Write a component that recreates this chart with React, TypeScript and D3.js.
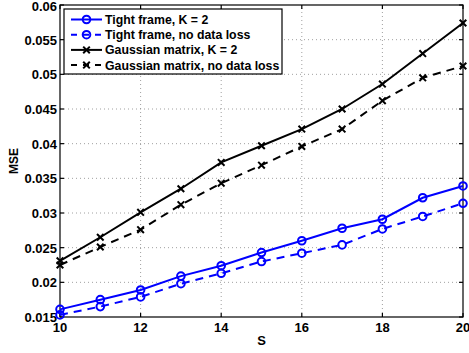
import React, { useEffect, useRef } from "react";
import * as d3 from "d3";

const sValues = [10, 11, 12, 13, 14, 15, 16, 17, 18, 19, 20];
const tightK2 = [0.0161, 0.0175, 0.0189, 0.0209, 0.0224, 0.0243, 0.026, 0.0278, 0.0291, 0.0322, 0.0339];
const tightNoLoss = [0.0153, 0.0165, 0.0179, 0.0198, 0.0213, 0.023, 0.0242, 0.0254, 0.0277, 0.0295, 0.0314];
const gaussK2 = [0.0231, 0.0265, 0.0301, 0.0335, 0.0373, 0.0397, 0.0421, 0.045, 0.0486, 0.053, 0.0574];
const gaussNoLoss = [0.0225, 0.0251, 0.0276, 0.0312, 0.0343, 0.0369, 0.0396, 0.0421, 0.0462, 0.0495, 0.0512];
const xTicks = [10, 12, 14, 16, 18, 20];
const yTicks = [0.015, 0.02, 0.025, 0.03, 0.035, 0.04, 0.045, 0.05, 0.055, 0.06];
const seriesNames = [
  "Tight frame, K = 2",
  "Tight frame, no data loss",
  "Gaussian matrix, K = 2",
  "Gaussian matrix, no data loss",
];

export default function App() {
  const ref = useRef<SVGSVGElement>(null);

  useEffect(() => {
    const W = 469, H = 353;
    const m = { left: 60, right: 6, top: 5, bottom: 36 };
    const svg = d3.select(ref.current).html("");
    svg.append("rect").attr("width", W).attr("height", H).attr("fill", "white");

    const x = d3.scaleLinear().domain([10, 20]).range([m.left, W - m.right]);
    const y = d3.scaleLinear().domain([0.015, 0.06]).range([H - m.bottom, m.top]);
    const font = "Liberation Sans, Arial, Helvetica, sans-serif";

    // grid
    const grid = svg.append("g").attr("stroke", "#888").attr("stroke-width", 0.8)
      .attr("stroke-dasharray", "1,3");
    xTicks.slice(1, -1).forEach((t) => {
      grid.append("line").attr("x1", x(t)).attr("x2", x(t)).attr("y1", y(0.015)).attr("y2", y(0.06));
    });
    yTicks.slice(1, -1).forEach((t) => {
      grid.append("line").attr("x1", x(10)).attr("x2", x(20)).attr("y1", y(t)).attr("y2", y(t));
    });

    // axes box + inward ticks
    const ax = svg.append("g").attr("stroke", "black").attr("stroke-width", 1.2);
    ax.append("rect").attr("x", x(10)).attr("y", y(0.06)).attr("width", x(20) - x(10))
      .attr("height", y(0.015) - y(0.06)).attr("fill", "none");
    xTicks.forEach((t) => {
      ax.append("line").attr("x1", x(t)).attr("x2", x(t)).attr("y1", y(0.015)).attr("y2", y(0.015) - 4);
      ax.append("line").attr("x1", x(t)).attr("x2", x(t)).attr("y1", y(0.06)).attr("y2", y(0.06) + 4);
    });
    yTicks.forEach((t) => {
      ax.append("line").attr("x1", x(10)).attr("x2", x(10) + 4).attr("y1", y(t)).attr("y2", y(t));
      ax.append("line").attr("x1", x(20)).attr("x2", x(20) - 4).attr("y1", y(t)).attr("y2", y(t));
    });

    const txt = svg.append("g").attr("font-family", font).attr("font-weight", "bold")
      .attr("font-size", 13).attr("fill", "black");
    xTicks.forEach((t) => {
      txt.append("text").attr("x", x(t)).attr("y", y(0.015) + 15).attr("text-anchor", "middle").text(t);
    });
    yTicks.forEach((t) => {
      txt.append("text").attr("x", x(10) - 3).attr("y", Math.max(y(t) + 5, 11)).attr("text-anchor", "end")
        .text(d3.format("")(+t.toFixed(3)));
    });
    txt.append("text").attr("x", (x(10) + x(20)) / 2).attr("y", H - 8).attr("text-anchor", "middle").text("S");
    txt.append("text").attr("transform", `translate(18, ${(y(0.015) + y(0.06)) / 2}) rotate(-90)`)
      .attr("text-anchor", "middle").attr("font-size", 12).text("MSE");

    const series = [
      { data: tightK2, color: "#0000ff", dash: null, marker: "o" },
      { data: tightNoLoss, color: "#0000ff", dash: "8,6", marker: "o" },
      { data: gaussK2, color: "black", dash: null, marker: "x" },
      { data: gaussNoLoss, color: "black", dash: "8,6", marker: "x" },
    ];

    const line = d3.line<number>().x((d, i) => x(sValues[i])).y((d) => y(d));

    const drawMarker = (g: any, cx: number, cy: number, kind: string, color: string) => {
      if (kind === "o") {
        g.append("circle").attr("cx", cx).attr("cy", cy).attr("r", 3.8)
          .attr("fill", "none").attr("stroke", color).attr("stroke-width", 2);
      } else {
        const r = 3.3;
        g.append("path").attr("d", `M${cx - r},${cy - r}L${cx + r},${cy + r}M${cx - r},${cy + r}L${cx + r},${cy - r}`)
          .attr("stroke", color).attr("stroke-width", 2);
      }
    };

    series.forEach((s) => {
      const g = svg.append("g");
      g.append("path").datum(s.data).attr("d", line).attr("fill", "none")
        .attr("stroke", s.color).attr("stroke-width", 2)
        .attr("stroke-dasharray", s.dash);
      s.data.forEach((d, i) => drawMarker(g, x(sValues[i]), y(d), s.marker, s.color));
    });

    // legend
    const lg = svg.append("g");
    lg.append("rect").attr("x", 64).attr("y", 9).attr("width", 218).attr("height", 65)
      .attr("fill", "white").attr("stroke", "black").attr("stroke-width", 1.2);
    series.forEach((s, i) => {
      const cy = 19.5 + i * 15.2;
      lg.append("line").attr("x1", 71).attr("x2", 102).attr("y1", cy).attr("y2", cy)
        .attr("stroke", s.color).attr("stroke-width", 2)
        .attr("stroke-dasharray", s.dash ? "6,6" : null);
      drawMarker(lg, 86.5, cy, s.marker, s.color);
      lg.append("text").attr("x", 105).attr("y", cy + 4.5).attr("font-family", font)
        .attr("font-weight", "bold").attr("font-size", 12.3).text(seriesNames[i]);
    });
  }, []);

  return <svg ref={ref} width={469} height={353} style={{ display: "block", position: "absolute", left: 0, top: 0 }} />;
}
